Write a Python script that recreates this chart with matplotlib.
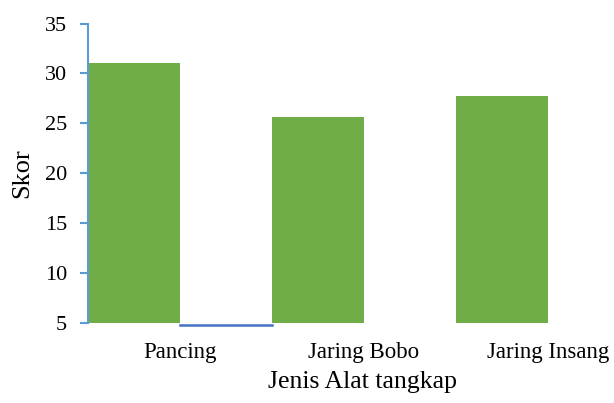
import matplotlib.pyplot as plt

categories = ['Pancing', 'Jaring Bobo', 'Jaring Insang']
skor = [31.1, 25.6, 27.7]
base = 5

plt.rcParams['font.family'] = 'Liberation Serif'

fig = plt.figure(figsize=(6.14, 4.03), dpi=100)
ax = fig.add_axes([0.1433, 0.1985, 0.749, 0.743])

x = list(range(len(categories)))
ax.bar(x, [v - base for v in skor], width=0.5, bottom=base, color='#70AD47', zorder=2)

ax.set_xlim(-0.25, 2.25)
ax.set_ylim(5, 35)
ax.set_yticks(range(5, 36, 5))
ax.set_xticks([i + 0.25 for i in x])
ax.set_xticklabels(categories, fontsize=16.5)
ax.tick_params(axis='x', length=0, pad=14)
ax.tick_params(axis='y', labelsize=16, color='#5B9BD5', width=1.5, length=6, direction='out', pad=9)

for s in ['top', 'right', 'bottom']:
    ax.spines[s].set_visible(False)
ax.spines['left'].set_color('#5B9BD5')
ax.spines['left'].set_linewidth(1.5)

# short line along the base between the first two bars
ax.plot([0.25, 0.75], [4.85, 4.85], color='#4472C4', lw=1.8, clip_on=False, zorder=3)

ax.set_ylabel('Skor', fontsize=19)
ax.yaxis.set_label_coords(-0.12, 0.5)
ax.set_xlabel('Jenis Alat tangkap', fontsize=18.5)
ax.xaxis.set_label_coords(0.598, -0.16)

fig.savefig('out.png', dpi=100)
